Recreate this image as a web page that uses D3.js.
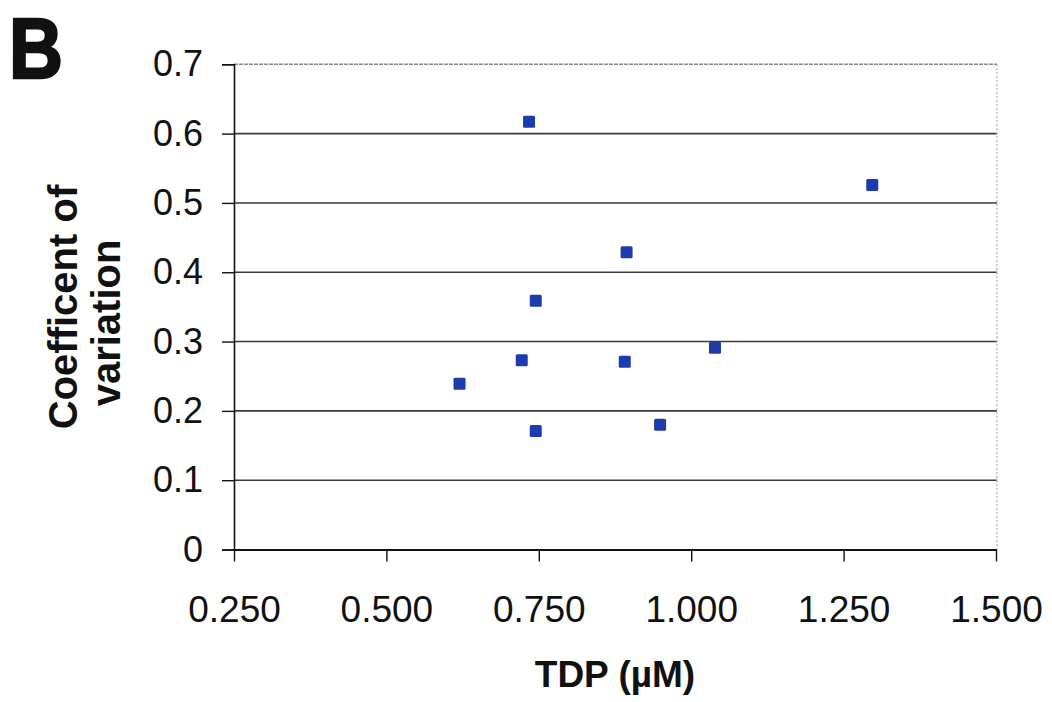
<!DOCTYPE html>
<html>
<head>
<meta charset="utf-8">
<script src="https://cdn.jsdelivr.net/npm/d3@7/dist/d3.min.js"></script>
<style>
  html, body { margin: 0; padding: 0; background: #ffffff; }
  svg { display: block; }
  text { font-family: "Liberation Sans", Arial, sans-serif; fill: #111; }
</style>
</head>
<body>
<svg id="chart" width="1052" height="702"></svg>
<script>
// ---- Data ----
const tdp = [0.620, 0.734, 0.745, 0.722, 0.745, 0.894, 0.891, 0.949, 1.039, 1.297];
const cv  = [0.239, 0.617, 0.359, 0.273, 0.171, 0.429, 0.271, 0.180, 0.291, 0.526];
const xTickValues = [0.25, 0.5, 0.75, 1.0, 1.25, 1.5];
const xTickLabels = ["0.250", "0.500", "0.750", "1.000", "1.250", "1.500"];
const yTickValues = [0, 0.1, 0.2, 0.3, 0.4, 0.5, 0.6, 0.7];
const yTickLabels = ["0", "0.1", "0.2", "0.3", "0.4", "0.5", "0.6", "0.7"];
const xTitle = "TDP (µM)";
const yTitleLines = ["Coefficent of", "variation"];
const panelLabel = "B";

// ---- Layout ----
const svg = d3.select("#chart");
const plotLeft = 234, plotRight = 996, plotTop = 64.3, plotBottom = 549.5;

const x = d3.scaleLinear().domain([0.25, 1.5]).range([plotLeft, plotRight]);
const y = d3.scaleLinear().domain([0, 0.7]).range([plotBottom, plotTop]);

// Gridlines
svg.append("g").selectAll("line")
  .data(yTickValues.filter(v => v > 0 && v < 0.7))
  .join("line")
  .attr("x1", plotLeft).attr("x2", plotRight + 1)
  .attr("y1", d => y(d)).attr("y2", d => y(d))
  .attr("stroke", "#3a3a3a").attr("stroke-width", 1.6);

// Top border (dotted grey)
svg.append("line")
  .attr("x1", plotLeft).attr("x2", plotRight + 1)
  .attr("y1", y(0.7)).attr("y2", y(0.7))
  .attr("stroke", "#8a8a8a").attr("stroke-width", 1.5)
  .attr("stroke-dasharray", "4,1");
// Right border (light dotted)
svg.append("line")
  .attr("x1", plotRight + 1).attr("x2", plotRight + 1)
  .attr("y1", y(0.7)).attr("y2", plotBottom)
  .attr("stroke", "#b8b8b8").attr("stroke-width", 1.5)
  .attr("stroke-dasharray", "2,2");

// Y axis
const yAxis = d3.axisLeft(y)
  .tickValues(yTickValues)
  .tickFormat((d, i) => yTickLabels[i])
  .tickSize(12).tickPadding(19);
const gy = svg.append("g").attr("transform", `translate(${plotLeft},0)`).call(yAxis);
gy.select(".domain").attr("stroke", "#111").attr("stroke-width", 1.6);
gy.selectAll(".tick line").attr("stroke", "#111").attr("stroke-width", 1.4);
gy.selectAll(".tick text")
  .style("font-family", '"Liberation Sans", Arial, sans-serif')
  .attr("font-size", 36).attr("fill", "#111");

// X axis
const xAxis = d3.axisBottom(x)
  .tickValues(xTickValues)
  .tickFormat((d, i) => xTickLabels[i])
  .tickSize(12).tickSizeOuter(0);
const gx = svg.append("g").attr("transform", `translate(0,${plotBottom})`).call(xAxis);
gx.select(".domain").attr("stroke", "#111").attr("stroke-width", 1.8);
gx.selectAll(".tick line").attr("stroke", "#111").attr("stroke-width", 1.4);
gx.selectAll(".tick text")
  .style("font-family", '"Liberation Sans", Arial, sans-serif')
  .attr("font-size", 37).attr("fill", "#111")
  .attr("dy", null).attr("y", 72.5);

// Points
const pts = tdp.map((d, i) => ({ x: d, y: cv[i] }));
svg.append("g").selectAll("rect")
  .data(pts)
  .join("rect")
  .attr("x", d => x(d.x) - 6).attr("y", d => y(d.y) - 6)
  .attr("width", 12).attr("height", 12)
  .attr("rx", 1.5)
  .attr("fill", "#1c3cae");

// X title
svg.append("text")
  .attr("x", (plotLeft + plotRight) / 2).attr("y", 687)
  .attr("text-anchor", "middle")
  .attr("font-size", 37).attr("font-weight", "bold")
  .text(xTitle);

// Y title (two lines, rotated)
svg.append("text")
  .attr("transform", "translate(77,307) rotate(-90)")
  .attr("text-anchor", "middle")
  .attr("font-size", 40).attr("font-weight", "bold")
  .text(yTitleLines[0]);
svg.append("text")
  .attr("transform", "translate(120,323) rotate(-90)")
  .attr("text-anchor", "middle")
  .attr("font-size", 40).attr("font-weight", "bold")
  .text(yTitleLines[1]);

// Panel label
svg.append("text")
  .attr("x", 9).attr("y", 78)
  .attr("font-size", 86).attr("font-weight", "bold")
  .attr("textLength", 54).attr("lengthAdjust", "spacingAndGlyphs")
  .style("stroke", "#111").style("stroke-width", 2.5)
  .text(panelLabel);
</script>
</body>
</html>
